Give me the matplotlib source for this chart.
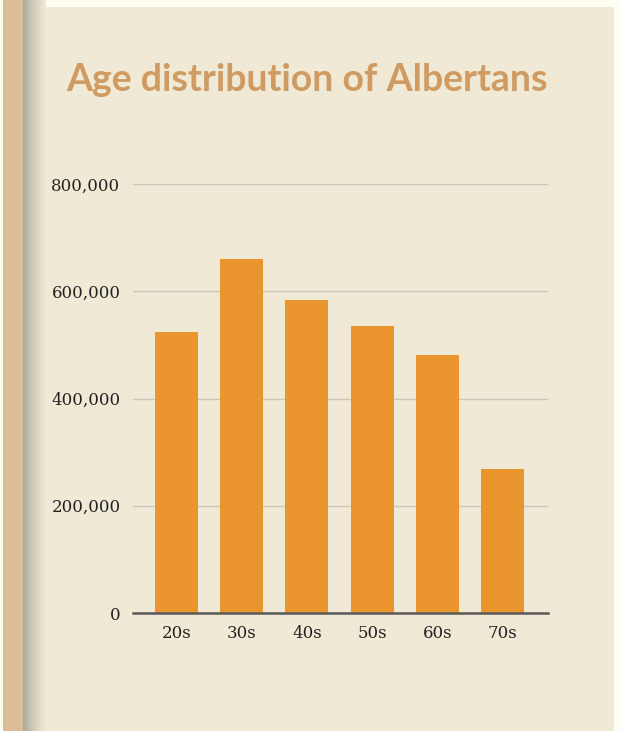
import matplotlib
matplotlib.use("Agg")
import matplotlib.pyplot as plt
from matplotlib.patches import Rectangle
from matplotlib.ticker import FuncFormatter
import numpy as np

age_groups = ["20s", "30s", "40s", "50s", "60s", "70s"]
population = [524000, 660000, 584000, 535000, 481000, 268000]
y_ticks = [0, 200000, 400000, 600000, 800000]

W, H = 621, 731
fig = plt.figure(figsize=(W / 100, H / 100), dpi=100)
fig.patch.set_facecolor("#FDFEF1")

# page background: tan strip, shadow and beige panel
bg = fig.add_axes([0, 0, 1, 1])
bg.axis("off")
bg.add_patch(Rectangle((23, 7), 591, H - 7, color="#F0E9D5", lw=0, zorder=1))
bg.add_patch(Rectangle((3, 0), 20, H, color="#DDBD98", lw=0, zorder=1))
grad = np.linspace(0, 1, 64) ** 0.8
c0 = np.array([0.66, 0.66, 0.60])
c1 = np.array([0xF0, 0xE9, 0xD5]) / 255
shade = (c0[None, :] * (1 - grad[:, None]) + c1[None, :] * grad[:, None])[None, :, :]
bg.imshow(shade, extent=(23, 46, H, 0), aspect="auto", interpolation="bilinear", zorder=2)
bg.set_xlim(0, W)
bg.set_ylim(H, 0)

fig.text(66 / W, 1 - 80 / H, "Age distribution of Albertans", fontsize=27,
         fontweight="bold", family="Lato", color="#CF9B62", va="center", ha="left")

# chart area: x 133..548, y 184 (800k)..613 (0)
ax = fig.add_axes([133 / W, 1 - 613 / H, (548 - 133) / W, (613 - 184) / H])
ax.patch.set_alpha(0)
x = np.arange(len(age_groups))
ax.bar(x, population, width=0.66, color="#EB952F", zorder=3)
ax.set_xlim(-0.67, 5.7)
ax.set_ylim(0, 800000)
ax.set_yticks(y_ticks)
ax.yaxis.set_major_formatter(FuncFormatter(lambda v, p: "{:,}".format(int(v))))
ax.set_xticks(x)
ax.set_xticklabels(age_groups)
ax.grid(axis="y", color="#CBC6B6", lw=1, zorder=0)
ax.set_axisbelow(True)
for s in ["top", "right", "left"]:
    ax.spines[s].set_visible(False)
ax.spines["bottom"].set_color("#5A5A58")
ax.spines["bottom"].set_linewidth(1.8)
ax.spines["bottom"].set_zorder(4)
ax.tick_params(length=0, labelsize=12, labelcolor="#222222")
ax.tick_params(axis="y", pad=9)
ax.tick_params(axis="x", pad=9)
for lab in ax.get_xticklabels() + ax.get_yticklabels():
    lab.set_family("DejaVu Serif")

fig.savefig("out.png", dpi=100, facecolor=fig.get_facecolor())
